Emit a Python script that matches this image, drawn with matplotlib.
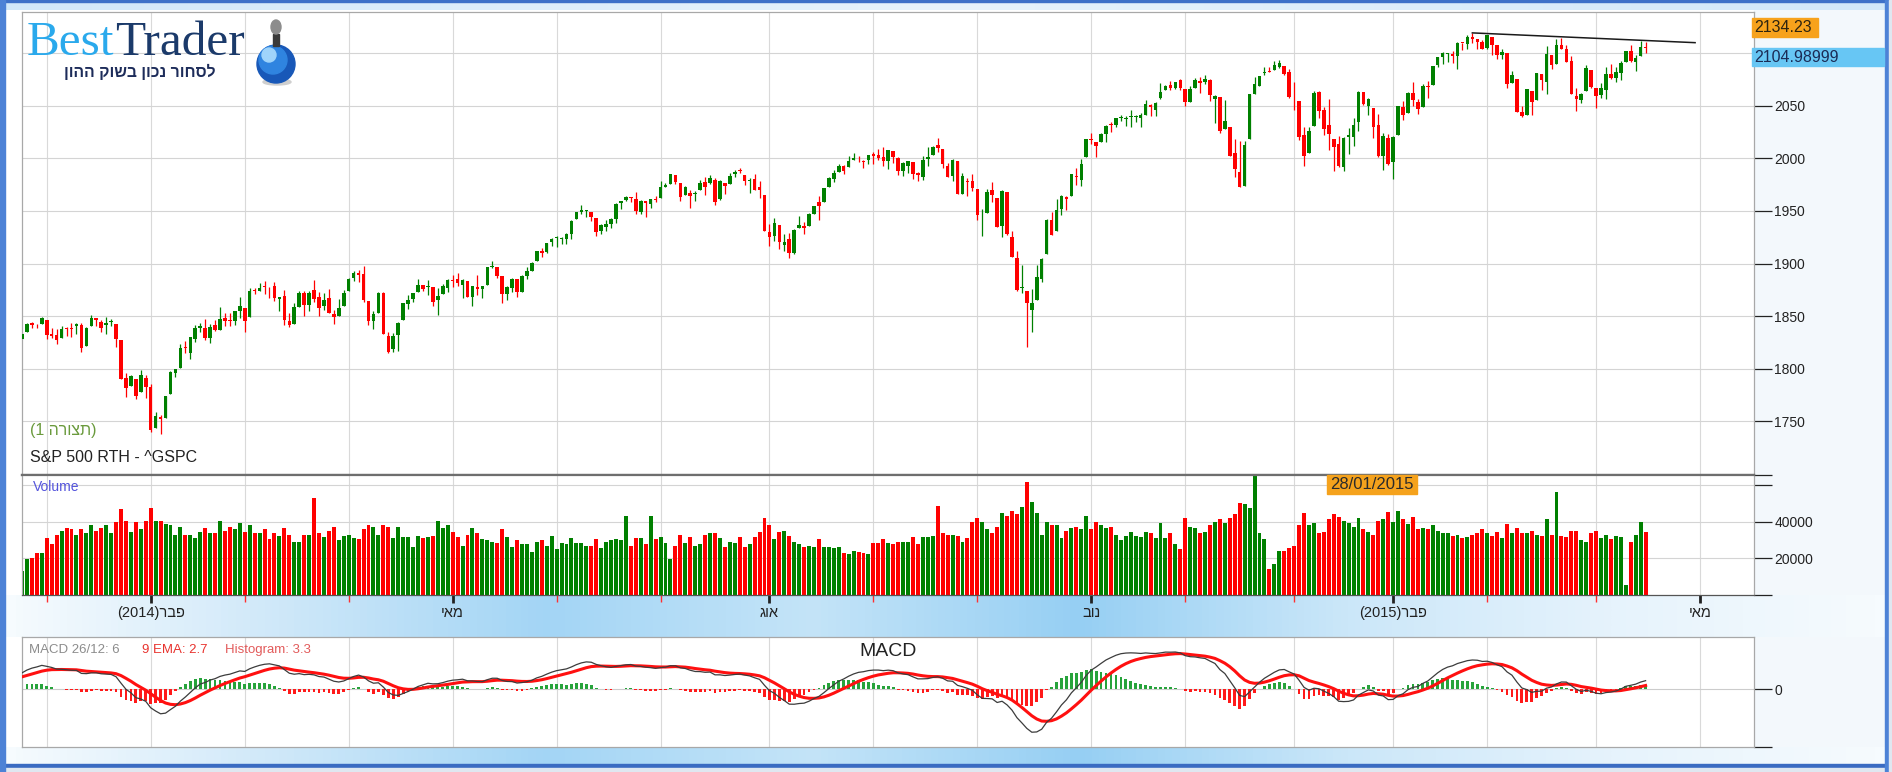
import numpy as np
import pandas as pd
import matplotlib
matplotlib.use("Agg")
import matplotlib.pyplot as plt
from matplotlib.patches import Rectangle, Ellipse
from matplotlib.colors import LinearSegmentedColormap

# ---------------------------------------------------------------- data
first_day = "2013-12-24"
market_holidays = ["2013-12-25", "2014-01-01", "2014-01-20", "2014-02-17", "2014-04-18",
                   "2014-05-26", "2014-07-04", "2014-09-01", "2014-11-27", "2014-12-25",
                   "2015-01-01", "2015-01-19", "2015-02-16", "2015-04-03", "2015-05-25"]

# closes before the first drawn bar, used only to warm up the MACD averages
warmup_close = [1695.0, 1693.9, 1678.7, 1690.5, 1676.1, 1655.5, 1656.4, 1692.6, 1703.2, 1710.1,
                1698.1, 1721.5, 1733.2, 1744.5, 1744.7, 1754.7, 1746.4, 1752.1, 1759.8, 1762.1,
                1772.0, 1763.3, 1756.5, 1761.6, 1767.9, 1763.0, 1770.5, 1747.2, 1770.6, 1771.9,
                1768.0, 1782.0, 1790.6, 1798.2, 1791.5, 1787.9, 1781.4, 1795.9, 1804.8, 1802.5,
                1802.8, 1807.2, 1805.8, 1800.9, 1795.2, 1792.8, 1785.0, 1805.1, 1808.4, 1802.6,
                1782.2, 1775.5, 1775.3, 1786.5, 1781.0, 1810.7, 1809.6, 1818.3, 1828.0]

opens = [
    1828.0, 1835.0, 1843.0, 1841.5, 1842.6, 1845.9, 1833.2, 1832.3, 1828.7, 1837.9,
    1839.0, 1840.1, 1841.3, 1821.4, 1840.5, 1848.0, 1844.2, 1841.1, 1844.7, 1842.3,
    1827.0, 1791.0, 1783.0, 1790.2, 1777.2, 1790.9, 1782.7, 1743.8, 1753.4, 1753.0,
    1776.0, 1796.2, 1800.5, 1820.1, 1814.9, 1828.5, 1839.0, 1838.9, 1829.2, 1841.1,
    1836.8, 1847.7, 1845.8, 1844.9, 1855.1, 1857.7, 1849.2, 1874.1, 1874.2, 1878.5,
    1877.9, 1878.3, 1866.2, 1869.1, 1845.1, 1842.8, 1858.9, 1872.3, 1860.1, 1874.5,
    1867.7, 1859.5, 1867.1, 1852.1, 1850.1, 1859.2, 1874.0, 1886.6, 1891.4, 1890.3,
    1863.9, 1845.5, 1852.6, 1872.3, 1830.7, 1818.2, 1831.5, 1846.0, 1861.7, 1865.8,
    1872.6, 1879.3, 1877.7, 1877.7, 1865.0, 1870.8, 1877.1, 1884.4, 1885.3, 1879.5,
    1883.7, 1868.5, 1877.4, 1875.3, 1880.0, 1896.8, 1897.1, 1888.2, 1871.2, 1876.7,
    1884.9, 1873.3, 1888.2, 1893.3, 1902.0, 1911.8, 1910.6, 1920.3, 1923.9, 1923.1,
    1923.1, 1928.5, 1942.4, 1949.0, 1950.3, 1949.4, 1943.4, 1930.8, 1934.8, 1937.2,
    1942.7, 1957.5, 1960.5, 1962.9, 1961.9, 1949.3, 1959.9, 1956.6, 1960.8, 1962.3,
    1973.1, 1975.9, 1984.2, 1976.4, 1965.1, 1966.7, 1965.8, 1969.9, 1977.4, 1976.4,
    1979.8, 1961.5, 1976.9, 1975.7, 1985.3, 1988.1, 1984.6, 1978.3, 1980.0, 1973.2,
    1965.1, 1929.8, 1926.6, 1936.3, 1917.3, 1923.0, 1910.4, 1933.4, 1935.7, 1935.6,
    1947.4, 1958.9, 1958.4, 1972.7, 1980.5, 1986.8, 1992.6, 1991.7, 1998.6, 2000.5,
    1997.4, 1998.5, 2004.1, 2003.6, 2001.7, 1998.0, 2007.2, 2000.7, 1988.4, 1992.9,
    1996.7, 1986.0, 1981.9, 1999.3, 2003.1, 2012.7, 2009.1, 1992.8, 1983.3, 1997.3,
    1966.2, 1979.0, 1978.2, 1971.4, 1945.8, 1948.1, 1970.0, 1962.4, 1935.6, 1967.7,
    1925.6, 1905.7, 1877.1, 1874.2, 1856.0, 1864.9, 1885.6, 1909.4, 1941.3, 1931.0,
    1951.6, 1963.0, 1964.1, 1983.3, 1979.5, 2001.2, 2018.2, 2015.8, 2015.3, 2023.3,
    2032.0, 2032.0, 2038.2, 2037.8, 2039.2, 2039.7, 2038.3, 2041.5, 2051.2, 2045.9,
    2057.5, 2065.1, 2070.2, 2067.4, 2074.8, 2065.8, 2053.8, 2067.5, 2073.6, 2072.8,
    2074.8, 2056.6, 2058.9, 2027.9, 2030.4, 2005.0, 1986.7, 1973.8, 2019.0, 2061.0,
    2069.3, 2081.5, 2083.3, 2084.3, 2087.6, 2088.5, 2082.1, 2058.9, 2054.4, 2022.2,
    2005.6, 2030.6, 2063.5, 2046.1, 2031.6, 2018.4, 2013.8, 1992.3, 2020.8, 2020.2,
    2034.3, 2063.0, 2050.4, 2047.9, 2032.3, 2002.5, 2019.4, 1996.7, 2022.7, 2048.9,
    2043.5, 2062.3, 2053.5, 2049.4, 2068.6, 2070.0, 2088.8, 2096.5, 2099.2, 2099.3,
    2097.7, 2109.8, 2109.1, 2115.3, 2113.9, 2110.9, 2105.2, 2115.8, 2107.7, 2098.5,
    2100.9, 2072.3, 2076.1, 2044.7, 2041.1, 2064.6, 2055.4, 2080.6, 2072.8, 2098.7,
    2090.3, 2108.0, 2103.9, 2093.1, 2059.9, 2055.8, 2064.1, 2084.1, 2067.6, 2060.0,
    2064.9, 2080.8, 2076.9, 2081.3, 2091.5, 2102.0, 2092.3, 2097.8, 2106.0]

highs = [
    1834.0, 1843.0, 1844.0, 1842.5, 1849.0, 1846.0, 1838.2, 1837.2, 1840.1, 1840.0,
    1843.2, 1843.2, 1843.5, 1839.3, 1850.8, 1848.0, 1846.0, 1849.3, 1846.9, 1842.3,
    1827.0, 1796.0, 1793.9, 1790.2, 1798.8, 1793.9, 1784.8, 1758.7, 1755.8, 1774.1,
    1798.0, 1799.9, 1823.5, 1826.6, 1830.3, 1841.7, 1842.9, 1847.5, 1842.8, 1846.1,
    1858.7, 1852.9, 1852.7, 1854.5, 1867.9, 1857.7, 1876.2, 1876.5, 1881.9, 1883.6,
    1877.9, 1882.4, 1868.4, 1874.4, 1852.4, 1862.3, 1873.8, 1874.1, 1873.5, 1884.0,
    1873.3, 1871.9, 1875.9, 1855.6, 1866.6, 1875.2, 1885.8, 1893.2, 1893.8, 1897.3,
    1864.0, 1855.0, 1872.4, 1872.5, 1835.1, 1834.2, 1844.0, 1862.3, 1869.6, 1871.9,
    1884.9, 1879.8, 1884.1, 1877.7, 1877.0, 1880.6, 1885.2, 1888.6, 1891.3, 1885.5,
    1883.7, 1878.8, 1889.1, 1878.6, 1897.0, 1902.2, 1897.1, 1888.2, 1878.3, 1886.0,
    1884.9, 1888.8, 1896.3, 1901.3, 1912.3, 1914.5, 1920.0, 1924.0, 1925.9, 1925.1,
    1928.6, 1941.7, 1949.4, 1955.6, 1950.9, 1949.4, 1943.4, 1937.3, 1941.2, 1943.7,
    1957.7, 1959.9, 1963.9, 1963.7, 1968.2, 1960.8, 1959.9, 1961.5, 1964.2, 1978.6,
    1976.7, 1985.6, 1984.2, 1976.4, 1974.2, 1969.8, 1968.7, 1979.9, 1982.5, 1983.9,
    1981.8, 1979.9, 1976.9, 1986.2, 1989.2, 1991.4, 1984.6, 1981.5, 1984.9, 1978.9,
    1965.1, 1937.4, 1942.9, 1936.3, 1927.9, 1928.9, 1932.4, 1944.9, 1939.2, 1948.4,
    1955.2, 1964.0, 1972.0, 1982.6, 1988.6, 1994.8, 1993.5, 2002.0, 2005.0, 2002.1,
    1998.6, 2003.4, 2006.1, 2009.3, 2011.2, 2007.7, 2007.2, 2001.0, 1996.7, 1997.7,
    1996.7, 1987.2, 2002.3, 2010.7, 2012.3, 2019.3, 2009.1, 1995.4, 1999.8, 1997.3,
    1986.4, 1981.3, 1985.2, 1971.4, 1952.3, 1971.2, 1977.8, 1962.4, 1970.4, 1967.7,
    1931.0, 1912.1, 1898.7, 1874.2, 1876.0, 1898.2, 1905.0, 1942.5, 1949.3, 1961.9,
    1965.3, 1964.6, 1985.1, 1991.4, 1999.4, 2018.2, 2024.5, 2016.0, 2023.8, 2031.6,
    2034.3, 2038.7, 2041.3, 2040.3, 2046.2, 2041.1, 2043.1, 2056.1, 2052.1, 2053.8,
    2071.5, 2070.2, 2074.2, 2073.3, 2075.8, 2065.8, 2068.8, 2076.3, 2077.3, 2079.5,
    2075.8, 2060.6, 2058.9, 2055.5, 2030.4, 2018.7, 2016.9, 2016.8, 2061.2, 2077.8,
    2078.8, 2086.7, 2087.6, 2092.7, 2093.6, 2088.5, 2085.6, 2072.4, 2054.4, 2030.3,
    2029.6, 2064.1, 2064.4, 2049.3, 2056.9, 2018.4, 2021.4, 2020.5, 2028.9, 2038.3,
    2064.6, 2063.0, 2057.6, 2047.9, 2042.5, 2024.6, 2023.3, 2021.7, 2050.3, 2054.7,
    2063.6, 2072.4, 2056.2, 2070.9, 2073.5, 2088.5, 2097.0, 2101.3, 2100.2, 2102.1,
    2111.0, 2110.1, 2117.9, 2119.6, 2113.9, 2112.7, 2117.5, 2115.8, 2107.7, 2104.3,
    2100.9, 2083.5, 2076.1, 2050.1, 2066.4, 2064.6, 2081.4, 2080.6, 2106.9, 2098.7,
    2113.9, 2114.9, 2107.6, 2097.4, 2067.1, 2062.8, 2089.0, 2084.1, 2067.6, 2072.2,
    2087.0, 2089.8, 2086.7, 2093.3, 2102.6, 2107.7, 2098.6, 2111.9, 2111.3]

lows = [
    1828.0, 1835.0, 1839.0, 1838.8, 1842.4, 1827.7, 1829.1, 1823.7, 1828.7, 1831.4,
    1830.4, 1832.4, 1815.5, 1821.4, 1840.5, 1840.3, 1835.2, 1832.4, 1840.9, 1820.1,
    1790.3, 1772.9, 1783.0, 1770.5, 1777.2, 1772.3, 1739.7, 1743.8, 1737.9, 1753.0,
    1776.0, 1791.8, 1800.5, 1815.1, 1809.2, 1825.6, 1835.0, 1827.0, 1824.6, 1835.6,
    1836.8, 1840.2, 1840.7, 1841.1, 1847.7, 1834.4, 1849.2, 1871.1, 1874.2, 1870.6,
    1867.0, 1863.9, 1854.4, 1841.9, 1839.6, 1842.8, 1858.9, 1850.3, 1854.6, 1863.5,
    1849.7, 1856.0, 1852.6, 1842.1, 1850.1, 1859.2, 1874.0, 1883.8, 1882.7, 1863.3,
    1841.5, 1837.5, 1852.4, 1833.0, 1814.4, 1815.8, 1816.3, 1846.0, 1856.7, 1863.2,
    1872.6, 1873.9, 1870.2, 1859.7, 1850.6, 1870.8, 1872.7, 1878.0, 1878.5, 1866.8,
    1867.7, 1859.8, 1870.1, 1867.0, 1880.0, 1896.1, 1885.8, 1862.4, 1864.8, 1872.4,
    1868.1, 1873.3, 1885.4, 1893.3, 1902.0, 1906.6, 1909.8, 1916.6, 1916.0, 1918.8,
    1918.6, 1922.9, 1942.4, 1947.2, 1944.6, 1940.1, 1925.8, 1927.7, 1930.9, 1933.6,
    1938.4, 1952.3, 1959.2, 1958.9, 1947.6, 1947.5, 1944.7, 1952.8, 1958.2, 1962.3,
    1972.6, 1975.9, 1975.6, 1959.5, 1965.1, 1952.9, 1959.6, 1969.9, 1965.3, 1975.7,
    1955.6, 1960.8, 1965.8, 1975.7, 1982.4, 1985.8, 1974.4, 1967.3, 1969.9, 1962.4,
    1930.7, 1916.4, 1921.2, 1913.8, 1911.5, 1904.8, 1909.0, 1933.4, 1928.3, 1935.6,
    1947.4, 1941.5, 1958.4, 1972.7, 1977.7, 1986.8, 1984.8, 1991.7, 1998.6, 1996.2,
    1990.5, 1994.7, 1994.9, 1998.1, 1992.5, 1990.1, 1995.6, 1984.6, 1983.0, 1985.9,
    1980.3, 1978.5, 1979.1, 1993.3, 2003.1, 2006.6, 1991.0, 1982.4, 1978.6, 1966.0,
    1966.2, 1964.0, 1969.0, 1941.7, 1926.0, 1948.1, 1958.4, 1934.9, 1925.3, 1927.6,
    1905.9, 1874.1, 1871.8, 1820.7, 1835.0, 1864.9, 1882.3, 1909.4, 1927.1, 1931.0,
    1946.3, 1951.4, 1964.1, 1974.8, 1974.2, 2001.2, 2013.7, 2001.0, 2015.3, 2015.9,
    2025.1, 2030.2, 2035.3, 2031.3, 2030.4, 2035.2, 2030.2, 2041.5, 2040.4, 2040.5,
    2056.8, 2065.1, 2064.8, 2066.6, 2065.1, 2049.6, 2053.8, 2066.7, 2062.3, 2070.8,
    2054.3, 2034.2, 2024.3, 2027.9, 2002.3, 1982.3, 1972.6, 1973.8, 2019.0, 2061.0,
    2069.3, 2079.5, 2081.9, 2084.3, 2085.8, 2079.5, 2057.9, 2046.0, 2017.3, 1992.4,
    2005.6, 2030.6, 2038.3, 2022.6, 2008.3, 1988.4, 1991.5, 1988.1, 2004.5, 2012.0,
    2026.4, 2050.5, 2041.0, 2019.9, 2001.5, 1989.2, 1993.4, 1980.9, 2022.7, 2036.7,
    2043.5, 2050.0, 2041.9, 2048.6, 2058.0, 2070.0, 2086.7, 2089.8, 2092.2, 2090.8,
    2085.4, 2103.0, 2103.8, 2109.9, 2103.8, 2103.8, 2104.5, 2098.3, 2094.5, 2095.2,
    2067.3, 2072.2, 2044.2, 2039.7, 2041.1, 2041.2, 2055.4, 2065.1, 2061.2, 2085.6,
    2090.3, 2104.4, 2091.5, 2061.1, 2045.5, 2053.0, 2064.1, 2067.0, 2048.4, 2057.3,
    2056.5, 2076.1, 2073.3, 2074.3, 2091.5, 2092.3, 2083.2, 2097.8, 2100.0]

closes = [
    1833.3, 1842.0, 1841.4, 1841.1, 1848.4, 1832.0, 1831.4, 1826.8, 1837.9, 1837.5,
    1838.1, 1842.4, 1819.2, 1838.9, 1848.4, 1845.9, 1838.7, 1843.8, 1844.9, 1828.5,
    1790.3, 1781.6, 1792.5, 1774.2, 1794.2, 1782.6, 1741.9, 1755.2, 1751.6, 1773.4,
    1797.0, 1799.8, 1819.8, 1819.3, 1829.8, 1838.6, 1840.8, 1828.8, 1839.8, 1836.3,
    1847.6, 1845.1, 1845.2, 1854.3, 1859.5, 1845.7, 1873.9, 1873.8, 1877.0, 1878.0,
    1877.2, 1867.6, 1868.2, 1846.3, 1841.1, 1858.8, 1872.3, 1860.8, 1872.0, 1866.5,
    1857.4, 1865.6, 1852.6, 1849.0, 1857.6, 1872.3, 1885.5, 1890.9, 1888.8, 1865.1,
    1845.0, 1852.0, 1872.2, 1833.1, 1815.7, 1830.6, 1843.0, 1862.3, 1864.9, 1871.9,
    1879.6, 1875.4, 1878.6, 1863.4, 1869.4, 1878.3, 1884.0, 1883.7, 1881.1, 1884.7,
    1867.7, 1878.2, 1875.6, 1878.5, 1896.7, 1897.5, 1888.5, 1870.9, 1877.9, 1885.1,
    1872.8, 1888.0, 1892.5, 1900.5, 1911.9, 1909.8, 1920.0, 1923.6, 1925.0, 1924.2,
    1927.9, 1940.5, 1949.4, 1951.3, 1950.8, 1943.9, 1930.1, 1936.2, 1937.8, 1942.0,
    1957.0, 1959.5, 1962.9, 1962.6, 1950.0, 1959.5, 1957.2, 1961.0, 1960.2, 1973.3,
    1974.6, 1985.4, 1977.7, 1963.7, 1972.8, 1964.7, 1967.6, 1977.1, 1973.3, 1981.6,
    1958.1, 1978.2, 1973.6, 1983.5, 1987.0, 1988.0, 1978.3, 1978.9, 1970.0, 1970.1,
    1930.7, 1925.2, 1939.0, 1920.2, 1920.2, 1909.6, 1931.6, 1936.9, 1933.8, 1946.7,
    1955.2, 1955.1, 1971.7, 1981.6, 1986.5, 1992.4, 1988.4, 1997.9, 2000.0, 2000.1,
    1996.7, 2003.4, 2002.3, 2000.7, 1997.7, 2007.7, 2001.5, 1988.4, 1995.7, 1997.5,
    1985.5, 1984.1, 1999.0, 2001.6, 2011.4, 2010.4, 1994.3, 1982.8, 1998.3, 1966.0,
    1982.9, 1977.8, 1972.3, 1946.2, 1946.2, 1967.9, 1964.8, 1935.1, 1968.9, 1928.2,
    1906.1, 1874.7, 1877.7, 1862.5, 1862.8, 1886.8, 1904.0, 1941.3, 1927.1, 1950.8,
    1964.6, 1961.6, 1985.1, 1982.3, 1994.7, 2018.1, 2017.8, 2012.1, 2023.6, 2031.2,
    2031.9, 2038.3, 2039.7, 2038.3, 2039.3, 2039.8, 2041.3, 2051.8, 2048.7, 2052.8,
    2063.5, 2069.4, 2067.0, 2072.8, 2067.6, 2053.4, 2066.6, 2074.3, 2071.9, 2075.4,
    2060.3, 2059.8, 2026.1, 2035.3, 2002.3, 1989.6, 1972.7, 2012.9, 2061.2, 2070.7,
    2078.5, 2082.2, 2081.9, 2088.8, 2090.6, 2080.4, 2058.9, 2058.2, 2020.6, 2002.6,
    2025.9, 2062.1, 2044.8, 2028.3, 2023.0, 2011.3, 1992.7, 2019.4, 2022.6, 2032.1,
    2063.2, 2051.8, 2057.1, 2029.6, 2002.2, 2021.3, 1995.0, 2020.9, 2050.0, 2041.5,
    2062.5, 2055.5, 2046.7, 2068.6, 2068.5, 2088.5, 2097.0, 2100.3, 2099.7, 2097.5,
    2110.3, 2109.7, 2115.5, 2113.9, 2110.7, 2104.5, 2117.4, 2107.8, 2098.5, 2101.0,
    2071.3, 2079.4, 2044.2, 2040.2, 2066.0, 2053.4, 2081.2, 2074.3, 2099.5, 2089.3,
    2108.1, 2104.4, 2091.5, 2061.1, 2056.2, 2061.0, 2086.2, 2067.9, 2059.7, 2067.0,
    2080.6, 2076.3, 2081.9, 2091.2, 2102.1, 2092.4, 2095.8, 2106.6, 2105.0]

volumes = [
    13000, 19600, 20300, 23000, 23000, 31000, 27800, 33000, 35000, 36700,
    36000, 33000, 36000, 34000, 38000, 35000, 36700, 38000, 34000, 40000,
    46900, 40700, 34500, 40000, 36000, 40700, 47600, 40700, 40700, 38700,
    38000, 33000, 37400, 33000, 33000, 31000, 34500, 36700, 34000, 34000,
    40700, 35000, 37400, 36000, 39400, 34500, 38000, 34000, 34000, 36000,
    30500, 34000, 32500, 36700, 33000, 29000, 29000, 33000, 33000, 53000,
    34000, 31800, 35000, 37200, 29800, 32500, 33000, 31000, 30500, 36000,
    38000, 37000, 33000, 38000, 37000, 31000, 37000, 31800, 31800, 26300,
    32500, 31000, 31800, 32500, 40700, 36700, 38000, 34500,
    31800, 27000, 33000, 36700, 34000, 30500, 29800, 29000, 28500,
    36000, 31800, 26300, 29800, 27800, 27800, 23600, 29000, 29800, 27000,
    32500, 25000, 28500, 27800, 31000, 28500, 28500, 27000, 27000, 30500,
    25800, 29000, 29800, 30500, 29800, 43400, 27000, 31000, 31000, 27800,
    43400, 30500, 31800, 28500, 19600, 27000, 33000, 28500, 31800, 27000,
    27800, 33000, 34000, 34000, 31000, 26300, 29000, 28500, 31800, 26300,
    27800, 31800, 34500, 42100, 38000, 30500, 34500, 35000, 32500, 29000,
    27800, 26300, 27000, 26300, 30500, 26300, 26300, 25800, 26300, 23000,
    22300, 24300, 23600, 23000, 22300, 28500, 28500, 30500, 28500,
    27800, 29000, 29000, 29000, 31800, 27800, 31800, 31800, 32500, 48900,
    34000, 33000, 33000, 32500, 29000, 31000, 40000, 42100, 40000, 36000,
    34000, 37200, 44900, 43400, 46100, 44100, 48300, 61900, 51000, 44900,
    33000, 40000, 38000, 38000, 31000, 35000, 36700, 37200, 36000, 43400,
    36000, 40000, 38000, 36700, 37200, 33000, 29800, 32500, 34500, 32500,
    31800, 34500, 34000, 31000, 39400, 31000, 34000, 27800, 25000, 42100,
    37200, 36700, 34000, 34500, 38000, 40000, 41400, 39400, 42100, 44100,
    50300, 49600, 47600, 68000, 34000, 30500, 14200, 16900, 24300, 24300,
    25800, 27000, 38000, 44900, 38000, 39400, 34000, 34500,
    41400, 44100, 42700, 40700, 39400, 37200, 42100, 36000, 34500, 33000,
    40700, 41400, 45600, 40000, 46100, 41400, 38700, 42700, 36000, 36700,
    36000, 38000, 35000, 34000, 34000, 32500, 33000, 31000, 31800, 33000,
    34000, 36000, 34000, 32500, 34500, 31000, 38700, 34000, 36700, 34000,
    34000, 35000, 33000, 32500, 41400, 33000, 56500, 32500, 31800, 35000,
    35000, 29800, 29000, 34000, 35000, 31000, 33000, 30500, 32500, 31800,
    5300, 29000, 33000, 40000, 34500]

trend_idx = [293, 338]
trend_price = [2119.6, 2110.3]

price_ticks = [1750, 1800, 1850, 1900, 1950, 2000, 2050]
price_grid = [1750, 1800, 1850, 1900, 1950, 2000, 2050, 2100]
volume_ticks = [20000, 40000]
volume_grid = [20000, 40000, 60000]
month_names = {2: "פבר", 5: "מאי", 8: "אוג", 11: "נוב"}   # logical (RTL) order
top_value, top_text = 2134.23, "2134.23"
last_value, last_text = 2104.98999, "2104.98999"
cursor_text = "28/01/2015"
series_name = "S&P 500 RTH - ^GSPC"
layout_word, layout_num = "תצורה", "1"
slogan = "לסחור נכון בשוק ההון"
macd_info = ["MACD 26/12: 6", "9 EMA: 2.7", "Histogram: 3.3"]

assert len(opens) == len(highs) == len(lows) == len(closes) == len(volumes)


def visual(s):
    """Hebrew is right-to-left; matplotlib lays glyphs out left-to-right."""
    return s[::-1]


# ---------------------------------------------------------------- figure
plt.rcParams["font.family"] = ["Liberation Sans", "DejaVu Sans"]
W, H = 1892, 772
fig = plt.figure(figsize=(W / 100, H / 100), dpi=100)
fig.patch.set_facecolor("white")


def add_px_axes(x0, y0, x1, y1, **kw):
    return fig.add_axes([x0 / W, 1 - y1 / H, (x1 - x0) / W, (y1 - y0) / H], **kw)


def rect_px(x0, y0, x1, y1, **kw):
    fig.add_artist(Rectangle((x0 / W, 1 - y1 / H), (x1 - x0) / W, (y1 - y0) / H,
                             transform=fig.transFigure, **kw))


def ell_px(cx, cy, rx, ry=None, **kw):
    ry = rx if ry is None else ry
    fig.add_artist(Ellipse((cx / W, 1 - cy / H), 2 * rx / W, 2 * ry / H,
                           transform=fig.transFigure, **kw))


def grad_band(x0, y0, x1, y1, stops, vertical=False):
    ax = add_px_axes(x0, y0, x1, y1, zorder=-5)
    cmap = LinearSegmentedColormap.from_list("g", stops)
    g = np.linspace(0, 1, 256)
    arr = g[:, None] if vertical else g[None, :]
    ax.imshow(arr, aspect="auto", cmap=cmap, extent=(0, 1, 0, 1), interpolation="bilinear")
    ax.set_axis_off()
    return ax


# window chrome
band_stops = ["#f6fbfe", "#cfe8f9", "#a3d5f5", "#c4e4f8", "#96cff3", "#cbe7f9", "#e6f3fc", "#f6fbfe"]
rect_px(1754, 8, 1885, 748, color="#f3f8fc", zorder=-10)
grad_band(0, 0, W, 10, ["#d2e8f9", "#e7f3fc", "#d2e8f9"])
rect_px(0, 0, W, 2, color="#3e71c8", zorder=-4)
grad_band(5, 595, 1885, 637, band_stops)
grad_band(5, 747, 1885, 764, band_stops)
rect_px(0, 764, W, 768, color="#3a6bc2", zorder=-4)
rect_px(0, 768, W, H, color="#dfe7f0", zorder=-4)
rect_px(0, 0, 5, H, color="#4d82d6", zorder=-4)
rect_px(1885, 0, 1889, H, color="#4d82d6", zorder=-4)
rect_px(1889, 0, W, H, color="#dfe7f0", zorder=-4)

# ---------------------------------------------------------------- calendar
holi = pd.to_datetime(market_holidays)
cal = pd.bdate_range(first_day, "2015-05-29")
cal = cal[~cal.isin(holi)]
mon = cal.month.values
yr = cal.year.values
XMAX = 349.9
starts = [i for i in range(1, len(cal)) if mon[i] != mon[i - 1] and i < XMAX]
major = [i for i in starts if mon[i] in month_names]
minor = [i for i in starts if mon[i] not in month_names]


def month_label(i):
    name = visual(month_names[mon[i]])
    return f"({yr[i]})" + name if mon[i] == 2 else name


n = len(closes)
x = np.arange(n)
o = np.array(opens); hi = np.array(highs); lo = np.array(lows); c = np.array(closes)
v = np.array(volumes)
up = c >= o
GREEN, RED = "#008000", "#ff0000"
cols = np.where(up, GREEN, RED)

L, R = 22, 1754
axp = add_px_axes(L, 12, R, 475)
axv = add_px_axes(L, 475, R, 595)
axm = add_px_axes(L, 637, R, 747)

for ax in (axp, axv, axm):
    ax.set_xlim(0, XMAX)
    ax.set_facecolor("white")
    for s in starts:
        ax.axvline(s, color="#d9d9d9", lw=0.8, zorder=0)
    for sp in ax.spines.values():
        sp.set_color("#a8a8a8")
        sp.set_linewidth(0.9)
    ax.yaxis.tick_right()
    ax.tick_params(axis="y", direction="out", length=13, width=0.9, color="#222222",
                   labelsize=10, labelcolor="#222222", pad=1.5)

# ---- price panel
axp.set_ylim(1698.6, 2139.5)
for yv in price_grid:
    axp.axhline(yv, color="#d4d4d4", lw=0.8, zorder=0)
axp.vlines(x, lo, hi, colors=cols, lw=0.9, zorder=2)
axp.bar(x, np.maximum(np.abs(c - o), 0.8), bottom=np.minimum(o, c), width=0.72,
        color=cols, lw=0, zorder=3)
axp.plot(trend_idx, trend_price, color="#1a1a1a", lw=1.1, zorder=4)
axp.set_yticks(price_ticks)
axp.set_xticks([])
axp.spines["bottom"].set_color("#6e6e6e")
axp.spines["bottom"].set_linewidth(1.6)


def ypix(ax, val):
    return H - ax.transData.transform((0, val))[1]


yt = ypix(axp, top_value)
rect_px(1752, yt, 1818, yt + 19, color="#f7a21c", zorder=5)
fig.text(1754 / W, 1 - (yt + 9.5) / H, top_text, fontsize=11.5, color="#2e2410",
         va="center", ha="left", zorder=7)
yl = ypix(axp, last_value)
rect_px(1752, yl, 1884, yl + 18, color="#67c6f4", zorder=5)
fig.text(1754 / W, 1 - (yl + 9) / H, last_text, fontsize=11.5, color="#1b2b55",
         va="center", ha="left", zorder=7)

# ---- volume panel
axv.set_ylim(0, 65600)
for yv in volume_grid:
    axv.axhline(yv, color="#d4d4d4", lw=0.8, zorder=0)
axv.bar(x, v, width=0.8, color=cols, lw=0, zorder=2)
axv.set_yticks([0] + volume_ticks + [60000, 65600])
axv.set_yticklabels([""] + [str(t) for t in volume_ticks] + ["", ""])
axv.set_xticks(major)
axv.set_xticklabels([month_label(i) for i in major])
axv.set_xticks(minor, minor=True)
axv.tick_params(axis="x", which="major", direction="out", length=6, width=2, color="#222222",
                labelsize=10.5, labelcolor="#222222", pad=2)
axv.tick_params(axis="x", which="minor", direction="out", length=5, width=1, color="#ff3030")
axv.spines["bottom"].set_color("#555555")
axv.spines["top"].set_color("#6e6e6e")
axv.spines["top"].set_linewidth(1.6)

# ---- MACD panel
allc = pd.Series(warmup_close + closes, dtype=float)
macd_full = allc.ewm(span=12, adjust=False).mean() - allc.ewm(span=26, adjust=False).mean()
sig_full = macd_full.ewm(span=9, adjust=False).mean()
macd = macd_full.values[len(warmup_close):]
sig = sig_full.values[len(warmup_close):]
hist = macd - sig
k = (macd.max() - macd.min()) / 80.0
axm.set_ylim(-57.4 * k, 52.3 * k)
axm.axhline(0, color="#cccccc", lw=0.8, zorder=0)
axm.bar(x, hist, width=0.55, color=np.where(hist >= 0, "#27a33b", "#ff1a1a"), lw=0, zorder=2)
axm.plot(x, sig, color="#ff1010", lw=2.2, zorder=3)
axm.plot(x, macd, color="#3c3c3c", lw=0.9, zorder=4)
axm.set_xticks([])
axm.set_yticks([-57.4 * k, 0])
axm.set_yticklabels(["", "0"])

# ---------------------------------------------------------------- texts
t1 = fig.text(27 / W, 1 - 55 / H, "Best", fontsize=35.5, family="Liberation Serif",
              color="#2aa9ec", va="baseline", ha="left")
rend = fig.canvas.get_renderer()
bb = t1.get_window_extent(rend)
fig.text((bb.x1 + 1) / W, 1 - 55 / H, "Trader", fontsize=35.5, family="Liberation Serif",
         color="#1b3a6a", va="baseline", ha="left")
fig.text(216 / W, 1 - 72 / H, visual(slogan), fontsize=11.3, fontweight="bold",
         color="#1d2c5a", va="center", ha="right")
# globe emblem
ell_px(277, 82, 14, 3, color="#cfcfcf", zorder=5)
ell_px(276, 64, 19, color="#1858b8", zorder=5)
ell_px(273, 60, 14, color="#2f84e0", zorder=5)
ell_px(269, 55, 7, color="#9fd4fb", zorder=5)
rect_px(273, 34, 279, 46, color="#3a3a3a", zorder=6)
ell_px(276, 27, 5, 7, color="#8c8c8c", zorder=6)

fig.text(30 / W, 1 - 431 / H, f"({layout_num} {visual(layout_word)})", fontsize=11.5,
         color="#6a9a3c", va="center", ha="left")
fig.text(30 / W, 1 - 457 / H, series_name, fontsize=11.5, color="#222222", va="center", ha="left")
fig.text(33 / W, 1 - 487 / H, "Volume", fontsize=10, color="#5454dc", va="center", ha="left")

rect_px(1327, 475, 1417, 494, color="#f5a21c", zorder=5)
fig.text(1372 / W, 1 - 484.5 / H, cursor_text, fontsize=12, color="#2b2b2b",
         va="center", ha="center", zorder=7)

fig.text(29 / W, 1 - 650 / H, macd_info[0], fontsize=9.5, color="#8c8c8c", va="center", ha="left")
fig.text(142 / W, 1 - 650 / H, macd_info[1], fontsize=9.5, color="#e8332e", va="center", ha="left")
fig.text(225 / W, 1 - 650 / H, macd_info[2], fontsize=9.5, color="#e25a5a", va="center", ha="left")
fig.text(888 / W, 1 - 652 / H, "MACD", fontsize=14, color="#222222", va="center", ha="center")

fig.savefig("out.png", dpi=100, facecolor=fig.get_facecolor())
